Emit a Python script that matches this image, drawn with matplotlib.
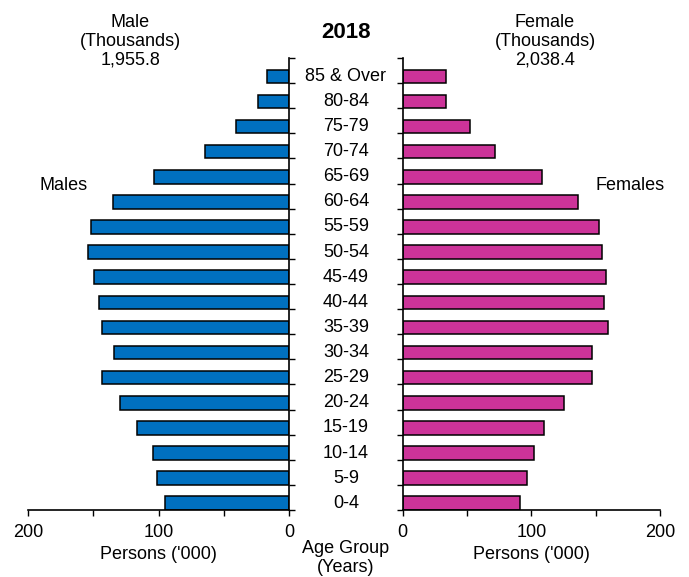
import numpy as np
import matplotlib.pyplot as plt
from matplotlib.transforms import blended_transform_factory

plt.rcParams['font.family'] = ['Liberation Sans', 'DejaVu Sans']

# age groups from youngest to oldest
ages = ['0-4', '5-9', '10-14', '15-19', '20-24', '25-29', '30-34', '35-39',
        '40-44', '45-49', '50-54', '55-59', '60-64', '65-69', '70-74',
        '75-79', '80-84', '85 & Over']
males = [95.1, 101.0, 104.6, 116.3, 129.3, 143.4, 133.9, 143.4, 145.7,
         149.2, 154.1, 151.8, 134.9, 103.3, 64.5, 40.8, 24.2, 16.8]
females = [90.9, 96.9, 101.8, 110.1, 125.6, 147.4, 147.4, 159.3, 156.7,
           158.3, 154.7, 152.3, 136.5, 108.0, 72.0, 52.6, 33.7, 33.7]
male_total = '1,955.8'
female_total = '2,038.4'
year = '2018'

blue = '#0070C0'
pink = '#CC3399'
fs = 13

fig = plt.figure(figsize=(6.89, 5.77), dpi=100)
ax1 = fig.add_axes([0.0406, 0.1161, 0.3793, 0.7834])
ax2 = fig.add_axes([0.5845, 0.1161, 0.3734, 0.7834])

y = np.arange(len(ages))
h = 0.54
ax1.barh(y, males, height=h, align='edge', color=blue, edgecolor='black', linewidth=1.1)
ax2.barh(y, females, height=h, align='edge', color=pink, edgecolor='black', linewidth=1.1)

for ax in (ax1, ax2):
    ax.set_ylim(0, len(ages))
    ax.set_yticks(np.arange(len(ages) + 1))
    ax.set_yticklabels([])
    ax.set_xticks([0, 100, 200])
    ax.set_xticks([50, 150], minor=True)
    ax.tick_params(axis='x', labelsize=fs, length=4, width=1, direction='out', pad=6)
    ax.tick_params(axis='x', which='minor', length=4, width=1)
    ax.tick_params(axis='y', length=4, width=1, direction='out')
    ax.spines['top'].set_visible(False)
    for s in ax.spines.values():
        s.set_linewidth(1.2)
    ax.set_xlabel("Persons ('000)", fontsize=fs, labelpad=4)

ax1.set_xlim(200, 0)
ax1.spines['left'].set_visible(False)
ax1.yaxis.tick_right()
ax2.set_xlim(0, 200)
ax2.spines['right'].set_visible(False)

# category labels in the middle
tr = blended_transform_factory(fig.transFigure, ax1.transData)
for i, a in enumerate(ages):
    fig.text(0.502, i + 0.27, a, transform=tr, ha='center', va='center', fontsize=fs)

fig.text(0.502, 1 - 32 / 577, year, ha='center', va='center', fontsize=16, fontweight='bold')
fig.text(0.189, 1 - 41 / 577, 'Male\n(Thousands)\n' + male_total, ha='center', va='center',
         fontsize=fs, linespacing=1.15)
fig.text(0.791, 1 - 41 / 577, 'Female\n(Thousands)\n' + female_total, ha='center', va='center',
         fontsize=fs, linespacing=1.15)
fig.text(0.092, 1 - 185 / 577, 'Males', ha='center', va='center', fontsize=fs)
fig.text(0.914, 1 - 185 / 577, 'Females', ha='center', va='center', fontsize=fs)
fig.text(0.502, 1 - 558 / 577, 'Age Group\n(Years)', ha='center', va='center',
         fontsize=fs, linespacing=1.15)

fig.savefig('out.png', dpi=100)
